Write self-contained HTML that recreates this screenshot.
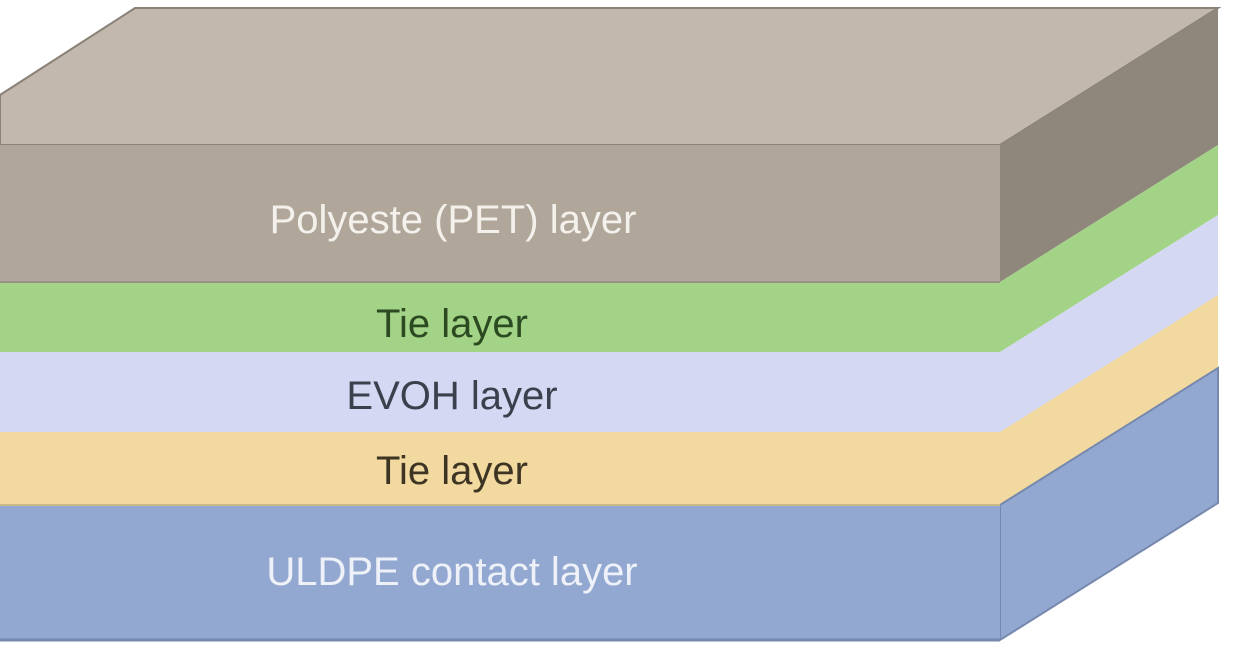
<!DOCTYPE html>
<html><head><meta charset="utf-8"><style>
html,body{margin:0;padding:0;background:#fff;}
svg{display:block}
text{font-family:"Liberation Sans",sans-serif;font-size:40px;text-anchor:middle}
</style></head><body>
<svg width="1258" height="662" viewBox="0 0 1258 662">
<polygon points="0,95 135,8 1218,8 1000,145 0,145" fill="#c2b8ad" stroke="#8a8177" stroke-width="2"/>
<polygon points="1000,145 1218,8 1218,145 1000,282" fill="#8f877c"/>
<polygon points="1000,282 1218,145 1218,215 1000,352" fill="#a2d386"/>
<polygon points="1000,352 1218,215 1218,295 1000,432" fill="#d4d8f3"/>
<polygon points="1000,432 1218,295 1218,368 1000,505" fill="#f1d9a0"/>
<polygon points="1000,505 1218,368 1218,503 1000,640" fill="#93a8d1" stroke="#7688ad" stroke-width="2"/>
<rect x="0" y="145" width="1000" height="137" fill="#b0a69a"/>
<rect x="0" y="282" width="1000" height="70" fill="#a2d386"/>
<rect x="0" y="352" width="1000" height="80" fill="#d4d8f3"/>
<rect x="0" y="432" width="1000" height="73" fill="#f1d9a0"/>
<rect x="0" y="505" width="1000" height="135" fill="#93a8d1"/>
<line x1="0" y1="640" x2="1000" y2="640" stroke="#7688ad" stroke-width="3"/>
<line x1="0" y1="282" x2="1000" y2="282" stroke="#9a9086" stroke-width="2"/>
<line x1="0" y1="505" x2="1000" y2="505" stroke="#c9b88a" stroke-width="2"/>
<text x="453" y="233" fill="#f4f1ec">Polyeste (PET) layer</text>
<text x="452" y="337" fill="#2c4a22">Tie layer</text>
<text x="452" y="409" fill="#3c3f4c">EVOH layer</text>
<text x="452" y="484" fill="#3d3424">Tie layer</text>
<text x="452" y="585" fill="#eef1f8">ULDPE contact layer</text>
</svg>
</body></html>
